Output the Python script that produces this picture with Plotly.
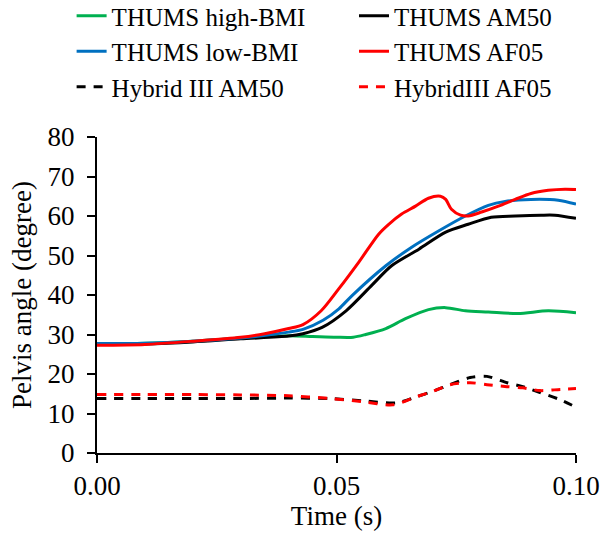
import plotly.graph_objects as go

# ---- data ----
t_high = [0, 0.01, 0.02, 0.03, 0.04, 0.045, 0.05, 0.0535, 0.0561, 0.0603, 0.0644, 0.0692, 0.0728, 0.0769, 0.0817, 0.0879, 0.0942, 0.1]
v_high = [27.6, 27.8, 28.3, 29.1, 29.7, 29.5, 29.3, 29.3, 30.0, 31.5, 34.0, 36.3, 36.8, 36.0, 35.7, 35.3, 36.0, 35.5]

t_am50 = [0, 0.01, 0.02, 0.03, 0.04, 0.043, 0.047, 0.052, 0.0574, 0.0615, 0.0672, 0.0728, 0.0775, 0.0823, 0.0873, 0.0927, 0.0956, 0.1]
v_am50 = [27.5, 27.6, 28.1, 28.9, 29.6, 30.2, 31.8, 36.0, 42.5, 47.4, 51.6, 55.9, 57.9, 59.7, 60.0, 60.2, 60.2, 59.4]

t_low = [0, 0.01, 0.02, 0.03, 0.04, 0.043, 0.0472, 0.0505, 0.0532, 0.0603, 0.0657, 0.0713, 0.0769, 0.0817, 0.0852, 0.0906, 0.0963, 0.1]
v_low = [27.7, 27.8, 28.3, 29.1, 30.6, 31.3, 33.6, 36.5, 39.8, 47.4, 52.1, 56.2, 60.0, 62.7, 63.7, 64.2, 64.0, 63.0]

t_af05 = [0, 0.01, 0.02, 0.03, 0.035, 0.04, 0.043, 0.0468, 0.0505, 0.0547, 0.0588, 0.0609, 0.0636, 0.0665, 0.0692, 0.0717, 0.0728, 0.074, 0.0759, 0.0775, 0.0803, 0.0838, 0.0873, 0.0906, 0.0942, 0.0977, 0.1]
v_af05 = [27.3, 27.5, 28.3, 29.3, 30.2, 31.5, 32.5, 36.0, 41.6, 48.4, 55.4, 57.9, 60.5, 62.5, 64.5, 65.0, 64.2, 61.7, 60.2, 60.0, 61.0, 62.5, 64.2, 65.7, 66.5, 66.8, 66.7]

t_h3_am50 = [0, 0.01, 0.02, 0.03, 0.04, 0.0486, 0.0555, 0.0626, 0.0668, 0.0701, 0.0737, 0.0779, 0.0814, 0.0856, 0.0889, 0.0925, 0.0967, 0.1]
v_h3_am50 = [13.8, 13.8, 13.8, 13.8, 13.9, 13.8, 13.2, 12.7, 14.3, 15.6, 17.3, 19.1, 19.4, 17.8, 16.8, 15.3, 13.5, 11.6]

t_h3_af05 = [0, 0.01, 0.02, 0.03, 0.04, 0.0486, 0.0555, 0.0618, 0.0668, 0.0701, 0.0737, 0.0779, 0.0814, 0.0856, 0.0889, 0.0925, 0.0967, 0.1]
v_h3_af05 = [14.8, 14.8, 14.8, 14.7, 14.5, 13.8, 13.0, 12.2, 14.3, 15.6, 17.3, 17.8, 17.3, 16.8, 16.5, 15.8, 16.1, 16.3]

x_ticks = [0.0, 0.05, 0.10]
x_tick_labels = ["0.00", "0.05", "0.10"]
y_ticks = [0, 10, 20, 30, 40, 50, 60, 70, 80]

FONT = "Liberation Serif, Times New Roman, serif"

# (name, t, v, colour, dash, legend column)
series = [
    ("THUMS high-BMI", t_high, v_high, "#00B050", "solid", "legend"),
    ("THUMS AM50", t_am50, v_am50, "#000000", "solid", "legend2"),
    ("THUMS low-BMI", t_low, v_low, "#0070C0", "solid", "legend"),
    ("THUMS AF05", t_af05, v_af05, "#FF0000", "solid", "legend2"),
    ("Hybrid III AM50", t_h3_am50, v_h3_am50, "#000000", "9px,8px", "legend"),
    ("HybridIII AF05", t_h3_af05, v_h3_af05, "#FF0000", "9px,8px", "legend2"),
]

fig = go.Figure()
for name, t, v, color, dash, leg in series:
    fig.add_trace(go.Scatter(
        x=t, y=v, mode="lines", name=name, legend=leg,
        line=dict(color=color, width=3, dash=dash, shape="spline", smoothing=0.8),
    ))

PLOT_H = 316.0
leg_y = 1 + 144 / PLOT_H
common_leg = dict(
    orientation="v", yanchor="top", y=leg_y, xanchor="left",
    font=dict(family=FONT, size=25, color="black"),
    bgcolor="rgba(0,0,0,0)", traceorder="normal", tracegroupgap=0,
)

fig.update_layout(
    width=602, height=536,
    margin=dict(l=97, r=26, t=137, b=83, autoexpand=False),
    paper_bgcolor="white", plot_bgcolor="white",
    font=dict(family=FONT, size=27, color="black"),
    showlegend=True,
    legend=dict(x=-0.053, **common_leg),
    legend2=dict(x=0.5365, **common_leg),
    xaxis=dict(
        range=[0, 0.1], tickvals=x_ticks, ticktext=x_tick_labels,
        showline=True, linecolor="black", linewidth=2,
        ticks="outside", ticklen=8, tickwidth=2, tickcolor="black",
        showgrid=False, zeroline=False, automargin=False,
        title=dict(text="Time (s)", standoff=0, font=dict(size=27)),
        tickfont=dict(size=27),
    ),
    yaxis=dict(
        range=[0, 80], tickvals=y_ticks,
        showline=True, linecolor="black", linewidth=2,
        ticks="outside", ticklen=8, tickwidth=2, tickcolor="black",
        ticklabelstandoff=7, automargin=False,
        showgrid=False, zeroline=False,
        title=dict(text="Pelvis angle (degree)", standoff=8, font=dict(size=27)),
        tickfont=dict(size=27),
    ),
)

fig.write_html("out.html")
